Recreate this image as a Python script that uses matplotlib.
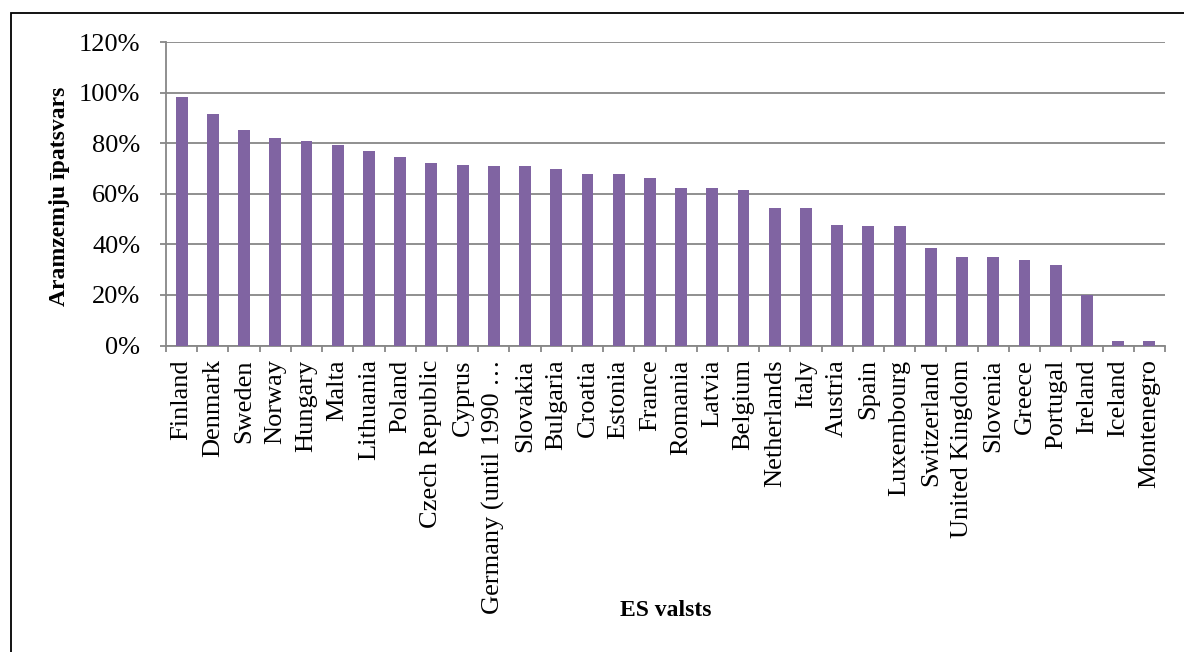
import numpy as np
import matplotlib
matplotlib.use("Agg")
import matplotlib.pyplot as plt
from matplotlib.patches import Rectangle
from matplotlib.ticker import FuncFormatter, MultipleLocator, FixedLocator

countries = ["Finland", "Denmark", "Sweden", "Norway", "Hungary", "Malta",
             "Lithuania", "Poland", "Czech Republic", "Cyprus",
             "Germany (until 1990 \u2026", "Slovakia", "Bulgaria", "Croatia",
             "Estonia", "France", "Romania", "Latvia", "Belgium", "Netherlands",
             "Italy", "Austria", "Spain", "Luxembourg", "Switzerland",
             "United Kingdom", "Slovenia", "Greece", "Portugal", "Ireland",
             "Iceland", "Montenegro"]
share = [98.5, 91.6, 85.2, 82.3, 81.0, 79.4, 77.0, 74.8, 72.3, 71.6,
         71.0, 71.0, 69.9, 67.9, 67.9, 66.1, 62.5, 62.4, 61.6, 54.6,
         54.3, 47.7, 47.4, 47.2, 38.6, 35.0, 34.9, 34.0, 31.9, 20.0,
         1.9, 1.6]

plt.rcParams['font.family'] = ['Liberation Serif', 'DejaVu Serif']

fig = plt.figure(figsize=(11.84, 6.52), dpi=100)
ax = fig.add_axes([166/1184, 1 - 345.5/652, (1165-166)/1184, (345.5-42.3)/652])

grid_c = "#878787"
x = np.arange(len(countries))
ax.bar(x, share, width=0.38, color="#8064A2", zorder=3)

ax.set_xlim(-0.5, len(countries) - 0.5)
ax.set_ylim(0, 120)
ax.yaxis.set_major_locator(MultipleLocator(20))
ax.yaxis.set_major_formatter(FuncFormatter(lambda v, p: f"{v:.0f}%"))
ax.grid(axis="y", color=grid_c, linewidth=1.3, zorder=0)

ax.set_xticks(x)
ax.set_xticklabels(countries, rotation=90, fontsize=19)
ax.xaxis.set_minor_locator(FixedLocator(np.arange(-0.5, len(countries), 1)))
ax.tick_params(axis="x", which="major", length=0, pad=10)
ax.tick_params(axis="x", which="minor", length=4.5, color=grid_c, width=1.3, direction="out")
ax.tick_params(axis="y", length=4.5, color=grid_c, width=1.3, pad=14, labelsize=19)

for s in ["top", "right"]:
    ax.spines[s].set_visible(False)
for s in ["left", "bottom"]:
    ax.spines[s].set_color(grid_c)
    ax.spines[s].set_linewidth(1.3)

fig.text(60/1184, 1 - 196/652, "Aramzemju īpatsvars", rotation=90,
         fontsize=17, fontweight="bold", ha="center", va="center")
fig.text(666/1184, 1 - 610/652, "ES valsts", fontsize=17,
         fontweight="bold", ha="center", va="center")

fig.patches.append(Rectangle((11/1184, -0.05), 1.2, 1 - 12.5/652 + 0.05,
                             transform=fig.transFigure, fill=False,
                             edgecolor="black", linewidth=1.3))

fig.savefig("out.png", dpi=100)
